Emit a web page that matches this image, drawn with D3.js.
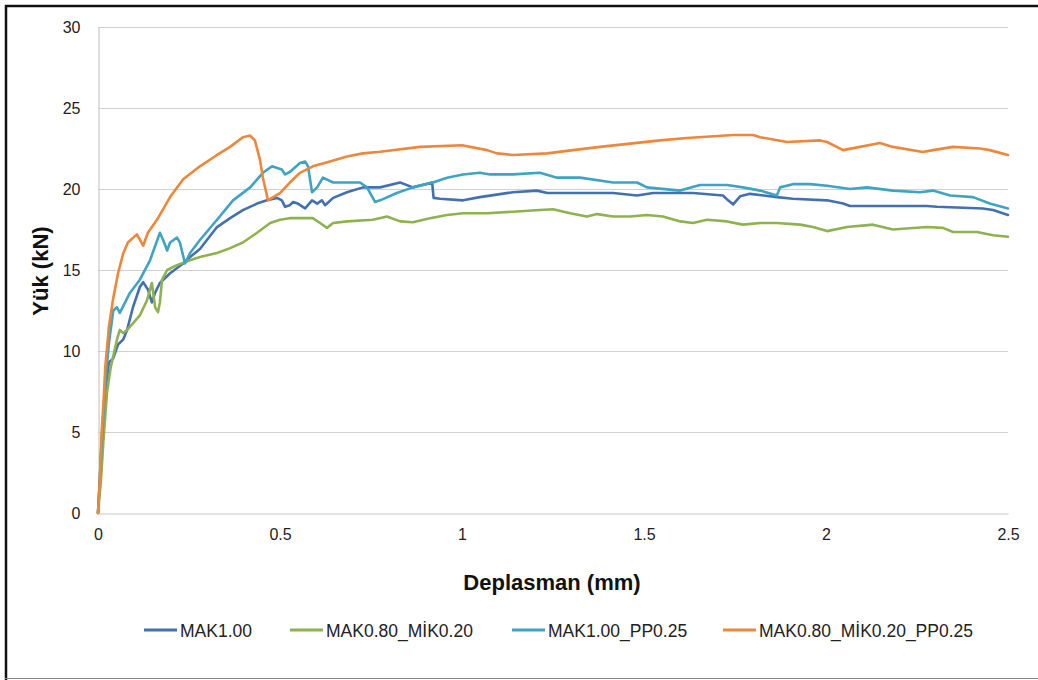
<!DOCTYPE html>
<html><head><meta charset="utf-8">
<script src="https://cdn.jsdelivr.net/npm/d3@7"></script>
<style>
body{margin:0;background:#fff;}
svg text{font-family:"Liberation Sans Narrow","Arial Narrow","Liberation Sans",sans-serif;}
</style></head>
<body><svg id="c" width="1038" height="680"></svg>
<script>
const seriesNames = ["MAK1.00","MAK0.80_MİK0.20","MAK1.00_PP0.25","MAK0.80_MİK0.20_PP0.25"];
const xTicks = [0,0.5,1,1.5,2,2.5];
const yTicks = [0,5,10,15,20,25,30];
const xTickLabels = ["0","0.5","1","1.5","2","2.5"];

const mak100_x = [0,0.005,0.01,0.02,0.03,0.041,0.055,0.069,0.08,0.096,0.115,0.124,0.137,0.148,0.157,0.17,0.198,0.234,0.253,0.28,0.327,0.363,0.398,0.437,0.464,0.492,0.505,0.514,0.527,0.536,0.549,0.569,0.588,0.602,0.615,0.624,0.646,0.684,0.728,0.775,0.83,0.865,0.918,0.922,0.94,1.003,1.049,1.14,1.206,1.234,1.324,1.415,1.481,1.525,1.599,1.635,1.717,1.731,1.745,1.764,1.791,1.865,1.909,2.003,2.047,2.066,2.277,2.305,2.431,2.459,2.5];
const mak100_y = [0,2,4.5,7.5,9.3,9.5,10.4,10.7,11.3,12.7,13.95,14.25,13.8,13.0,13.6,14.2,14.8,15.4,15.8,16.3,17.65,18.2,18.7,19.1,19.3,19.45,19.3,18.9,19.0,19.2,19.1,18.8,19.3,19.1,19.3,19.0,19.45,19.8,20.1,20.1,20.4,20.1,20.4,19.45,19.4,19.3,19.5,19.8,19.9,19.75,19.75,19.75,19.6,19.75,19.75,19.75,19.6,19.3,19.05,19.55,19.7,19.5,19.4,19.3,19.1,18.95,18.95,18.9,18.8,18.7,18.4];

const mak080_x = [0,0.008,0.015,0.025,0.035,0.052,0.06,0.069,0.08,0.096,0.115,0.135,0.148,0.157,0.165,0.17,0.176,0.19,0.217,0.253,0.28,0.327,0.363,0.398,0.437,0.473,0.5,0.527,0.59,0.61,0.629,0.646,0.684,0.755,0.794,0.83,0.865,0.912,0.959,1.003,1.069,1.14,1.214,1.25,1.297,1.343,1.371,1.415,1.462,1.508,1.552,1.6,1.635,1.673,1.728,1.772,1.819,1.865,1.929,1.964,2.003,2.058,2.129,2.184,2.277,2.321,2.349,2.415,2.459,2.5];
const mak080_y = [0,2,4.5,7.5,9,10.7,11.3,11.1,11.3,11.7,12.2,13.15,14.2,12.7,12.4,13.0,14.4,15.0,15.3,15.6,15.8,16.05,16.35,16.7,17.3,17.9,18.1,18.2,18.2,17.9,17.6,17.9,18.0,18.1,18.3,18.0,17.95,18.2,18.4,18.5,18.5,18.6,18.7,18.75,18.5,18.3,18.45,18.3,18.3,18.4,18.3,18.0,17.9,18.1,18.0,17.8,17.9,17.9,17.8,17.65,17.4,17.65,17.8,17.5,17.65,17.6,17.35,17.35,17.15,17.05];

const makpp_x = [0,0.006,0.012,0.02,0.03,0.042,0.052,0.06,0.088,0.115,0.143,0.17,0.179,0.19,0.198,0.217,0.225,0.239,0.253,0.28,0.327,0.371,0.418,0.453,0.478,0.505,0.514,0.527,0.555,0.569,0.577,0.588,0.602,0.618,0.646,0.72,0.739,0.761,0.775,0.821,0.865,0.92,0.959,1.003,1.049,1.077,1.14,1.214,1.261,1.324,1.415,1.481,1.508,1.599,1.654,1.728,1.772,1.819,1.865,1.874,1.909,1.956,2.003,2.066,2.113,2.184,2.258,2.294,2.341,2.404,2.45,2.5];
const makpp_y = [0,2.5,5,8,10.5,12.5,12.7,12.35,13.6,14.4,15.6,17.3,16.85,16.2,16.7,17.0,16.7,15.4,16.05,16.85,18.1,19.3,20.1,21.0,21.4,21.2,20.9,21.05,21.6,21.7,21.4,19.8,20.1,20.7,20.4,20.4,20.1,19.2,19.3,19.75,20.1,20.4,20.7,20.9,21.0,20.9,20.9,21.0,20.7,20.7,20.4,20.4,20.1,19.9,20.25,20.25,20.1,19.9,19.6,20.1,20.3,20.3,20.2,20.0,20.1,19.9,19.8,19.9,19.6,19.5,19.1,18.8];

const makmikpp_x = [0,0.005,0.01,0.015,0.02,0.03,0.041,0.055,0.069,0.082,0.107,0.124,0.137,0.162,0.198,0.234,0.28,0.327,0.363,0.398,0.418,0.431,0.445,0.453,0.467,0.481,0.5,0.527,0.555,0.59,0.637,0.684,0.728,0.775,0.885,1.0,1.069,1.096,1.14,1.234,1.305,1.379,1.462,1.544,1.618,1.745,1.8,1.819,1.893,1.984,2.003,2.047,2.148,2.184,2.266,2.294,2.349,2.423,2.45,2.5];
const makmikpp_y = [0,2,5,6.8,9,11.5,13.15,14.8,16.0,16.7,17.2,16.5,17.3,18.1,19.5,20.6,21.4,22.1,22.6,23.2,23.3,23.0,21.8,20.7,19.3,19.5,19.75,20.4,21.0,21.4,21.7,22.0,22.2,22.3,22.6,22.7,22.4,22.2,22.1,22.2,22.4,22.6,22.8,23.0,23.15,23.33,23.33,23.2,22.9,23.0,22.9,22.4,22.84,22.6,22.28,22.4,22.6,22.5,22.4,22.1];

const seriesX = [mak100_x, mak080_x, makpp_x, makmikpp_x];
const seriesY = [mak100_y, mak080_y, makpp_y, makmikpp_y];
const colors = ["#4470b0","#8db24e","#3fa3c2","#ec873b"];

const svg = d3.select("#c");
svg.append("rect").attr("x",0).attr("y",0).attr("width",1038).attr("height",680).attr("fill","#fff");
svg.append("line").attr("x1",5).attr("x2",1038).attr("y1",6).attr("y2",6).attr("stroke","#111").attr("stroke-width",2.5);
svg.append("line").attr("x1",6).attr("x2",6).attr("y1",5).attr("y2",680).attr("stroke","#111").attr("stroke-width",2.5);
svg.append("line").attr("x1",5).attr("x2",1038).attr("y1",678.5).attr("y2",678.5).attr("stroke","#888").attr("stroke-width",1);

const x = d3.scaleLinear().domain([0,2.5]).range([98,1008]);
const y = d3.scaleLinear().domain([0,30]).range([513,27]);

svg.append("g").selectAll("line").data(yTicks.slice(1)).join("line")
  .attr("x1",98).attr("x2",1008).attr("y1",d=>Math.round(y(d))+0.5).attr("y2",d=>Math.round(y(d))+0.5)
  .attr("stroke","#d0d0d0").attr("stroke-width",1);

const xAxis = d3.axisBottom(x).tickValues(xTicks).tickFormat((d,i)=>xTickLabels[i]).tickSize(0).tickPadding(15);
const gx = svg.append("g").attr("transform","translate(0,513.5)").call(xAxis);
gx.select(".domain").attr("stroke","#c8c8c8").attr("stroke-width",1.2);
gx.selectAll("text").attr("font-size",16).attr("fill","#222");

const yAxis = d3.axisLeft(y).tickValues(yTicks).tickFormat(d3.format("d")).tickSize(0).tickPadding(18);
const gy = svg.append("g").attr("transform","translate(98.5,0)").call(yAxis);
gy.select(".domain").attr("stroke","#c8c8c8").attr("stroke-width",1.2);
gy.selectAll("text").attr("font-size",16).attr("fill","#222");

const line = d3.line().x(d=>x(d[0])).y(d=>y(d[1])).curve(d3.curveLinear);
seriesX.forEach((xs,i)=>{
  const pts = xs.map((v,j)=>[v, seriesY[i][j]]);
  svg.append("path").datum(pts).attr("d",line).attr("fill","none")
    .attr("stroke",colors[i]).attr("stroke-width",2.6).attr("stroke-linejoin","round").attr("stroke-linecap","round");
});

svg.append("text").attr("x",552).attr("y",590).attr("text-anchor","middle")
  .attr("font-size",22).attr("font-weight","bold").attr("fill","#111").text("Deplasman (mm)");
svg.append("text").attr("transform","translate(48,271) rotate(-90)").attr("text-anchor","middle")
  .attr("font-size",22).attr("font-weight","bold").attr("fill","#111").text("Yük (kN)");

const legX = [144,290,512,723];
const lg = svg.append("g");
seriesNames.forEach((n,i)=>{
  lg.append("line").attr("x1",legX[i]).attr("x2",legX[i]+33).attr("y1",630).attr("y2",630)
    .attr("stroke",colors[i]).attr("stroke-width",3);
  lg.append("text").attr("x",legX[i]+36).attr("y",636.5).attr("font-size",17.5).attr("fill","#222").text(n);
});
</script></body></html>
